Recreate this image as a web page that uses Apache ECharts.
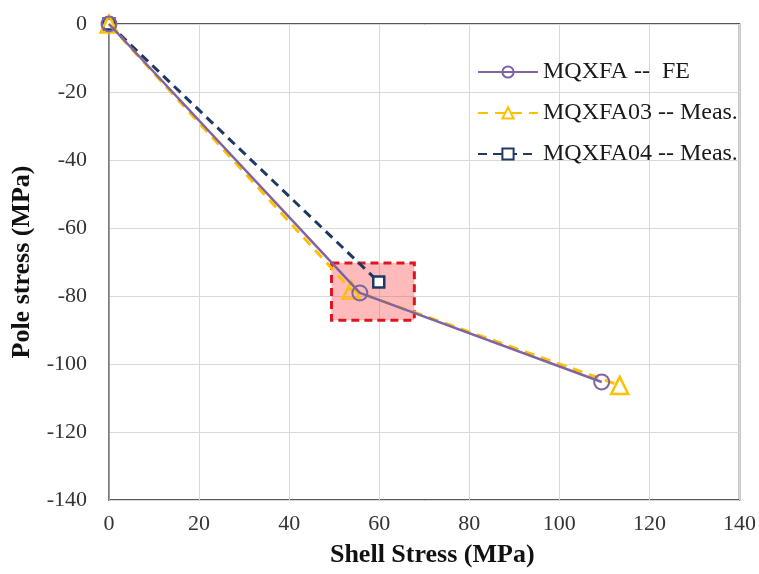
<!DOCTYPE html>
<html><head><meta charset="utf-8">
<script src="https://cdn.jsdelivr.net/npm/echarts@6/dist/echarts.min.js"></script>
<style>html,body{margin:0;padding:0;background:#fff}#c{width:759px;height:574px}</style>
</head><body><div id="c"></div>
<script>
const feShell = [0, 55.7, 109.4];
const fePole = [0, -79.1, -105.3];
const m03Shell = [0, 53.8, 113.4];
const m03Pole = [0, -78.2, -106.3];
const m04Shell = [0, 59.9];
const m04Pole = [0, -75.9];
const highlightX = [49.4, 67.8];
const highlightY = [-70.3, -87.1];
const seriesNames = ['MQXFA --  FE', 'MQXFA03 -- Meas.', 'MQXFA04 -- Meas.'];

const zip = (a, b) => a.map((v, i) => [v, b[i]]);
const serif = '"Liberation Serif", "DejaVu Serif", serif';

const chart = echarts.init(document.getElementById('c'));
chart.setOption({
  animation: false,
  grid: {left: 109, right: 19, top: 24, bottom: 74, show: true, borderColor: '#222', borderWidth: 1.5, backgroundColor: '#fff'},
  legend: {
    orient: 'vertical', left: 472, top: 55, itemGap: 17, itemWidth: 60, itemHeight: 14,
    textStyle: {fontFamily: serif, fontSize: 24, color: '#1a1a1a'},
    data: seriesNames
  },
  xAxis: {
    type: 'value', min: 0, max: 140, interval: 20,
    name: 'Shell Stress (MPa)', nameLocation: 'middle', nameGap: 42,
    nameTextStyle: {fontFamily: serif, fontSize: 26, fontWeight: 'bold', color: '#111', padding: [0, 0, 0, 16]},
    axisLine: {show: false}, axisTick: {show: false},
    axisLabel: {fontFamily: serif, fontSize: 22, color: '#333', margin: 13},
    splitLine: {lineStyle: {color: '#d9d9d9', width: 1}}
  },
  yAxis: {
    type: 'value', min: -140, max: 0, interval: 20,
    name: 'Pole stress (MPa)', nameLocation: 'middle', nameGap: 71,
    nameTextStyle: {fontFamily: serif, fontSize: 26, fontWeight: 'bold', color: '#111'},
    axisLine: {show: true, onZero: false, lineStyle: {color: '#888', width: 1.5}}, axisTick: {show: false},
    axisLabel: {fontFamily: serif, fontSize: 22, color: '#333', margin: 22},
    splitLine: {lineStyle: {color: '#d9d9d9', width: 1}}
  },
  series: [
    {
      name: seriesNames[2], type: 'line', data: zip(m04Shell, m04Pole), z: 3,
      lineStyle: {color: '#1F3864', width: 3, type: [9, 6]},
      itemStyle: {color: '#fff', borderColor: '#1F3864', borderWidth: 2.5},
      symbol: 'rect', symbolSize: 11
    },
    {
      name: seriesNames[1], type: 'line', data: zip(m03Shell, m03Pole), z: 4,
      lineStyle: {color: '#FFC000', width: 3, type: [10, 7]},
      itemStyle: {color: 'rgba(255,255,255,0)', borderColor: '#FFC000', borderWidth: 2.5},
      symbol: 'triangle', symbolSize: 17
    },
    {
      name: seriesNames[0], type: 'line', data: zip(feShell, fePole), z: 5,
      lineStyle: {color: '#8064A2', width: 2.5},
      itemStyle: {color: 'rgba(255,255,255,0)', borderColor: '#8064A2', borderWidth: 2},
      symbol: 'circle', symbolSize: 15,
      markArea: {
        silent: true,
        itemStyle: {color: 'rgba(255,60,60,0.35)', borderColor: '#e0141e', borderWidth: 3, borderType: [8, 5]},
        data: [[{coord: [highlightX[0], highlightY[0]]}, {coord: [highlightX[1], highlightY[1]]}]]
      }
    }
  ]
});
</script></body></html>
